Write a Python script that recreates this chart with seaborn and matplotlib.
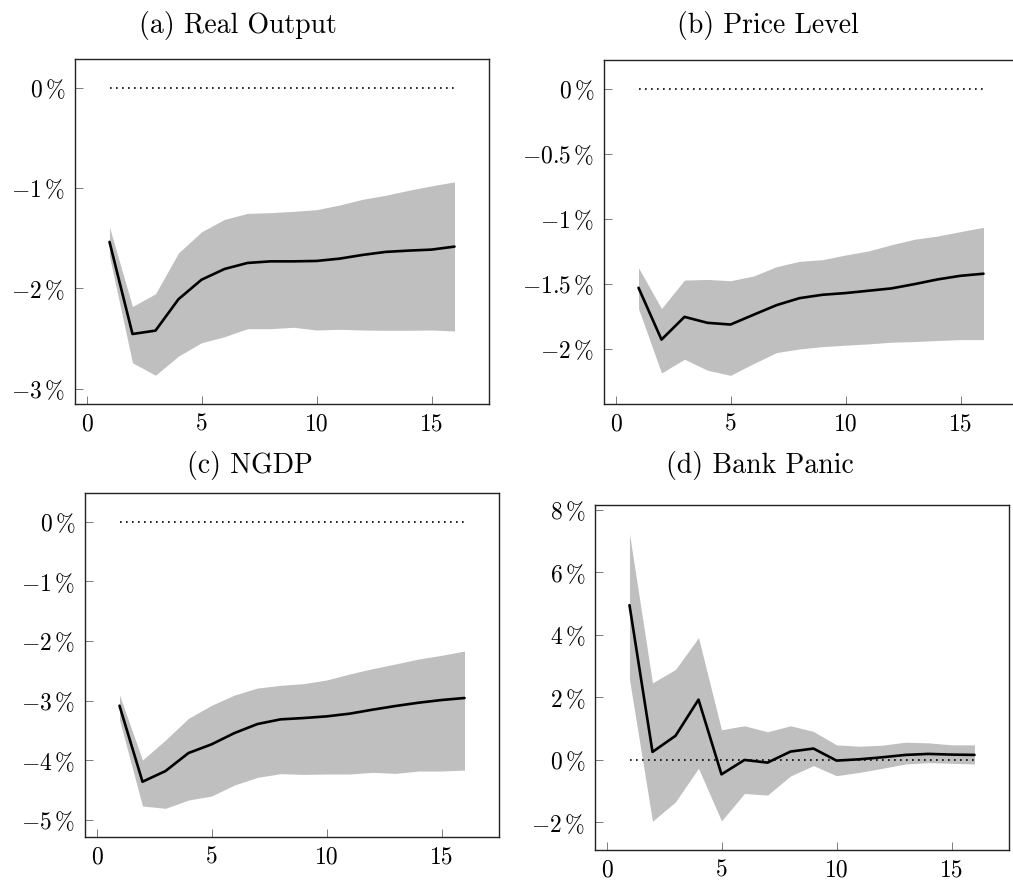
import numpy as np
import pandas as pd
import matplotlib
matplotlib.use("Agg")
import matplotlib.pyplot as plt
import seaborn as sns

# Impulse responses (percent) over a 16-period horizon, with confidence bands
horizon = list(range(1, 17))

output_irf = [-1.536, -2.454, -2.420, -2.107, -1.913, -1.806, -1.746, -1.730,
              -1.730, -1.726, -1.703, -1.666, -1.636, -1.623, -1.613, -1.583]
output_hi = [-1.390, -2.180, -2.053, -1.646, -1.436, -1.312, -1.252, -1.245,
             -1.232, -1.215, -1.169, -1.112, -1.072, -1.022, -0.978, -0.938]
output_lo = [-1.680, -2.741, -2.865, -2.674, -2.541, -2.481, -2.401, -2.401,
             -2.387, -2.414, -2.407, -2.414, -2.417, -2.417, -2.414, -2.424]

price_irf = [-1.532, -1.931, -1.756, -1.802, -1.815, -1.740, -1.666, -1.612,
             -1.586, -1.573, -1.555, -1.537, -1.504, -1.468, -1.440, -1.424]
price_hi = [-1.378, -1.692, -1.473, -1.468, -1.478, -1.442, -1.370, -1.329,
            -1.316, -1.280, -1.249, -1.201, -1.159, -1.134, -1.100, -1.067]
price_lo = [-1.692, -2.188, -2.082, -2.167, -2.206, -2.116, -2.031, -2.003,
            -1.985, -1.974, -1.964, -1.951, -1.946, -1.938, -1.931, -1.931]

ngdp_irf = [-3.084, -4.358, -4.179, -3.877, -3.732, -3.542, -3.391, -3.313,
            -3.291, -3.263, -3.218, -3.151, -3.089, -3.034, -2.989, -2.955]
ngdp_hi = [-2.904, -3.994, -3.659, -3.296, -3.078, -2.905, -2.788, -2.743,
           -2.715, -2.654, -2.553, -2.464, -2.385, -2.302, -2.240, -2.168]
ngdp_lo = [-3.320, -4.765, -4.804, -4.665, -4.598, -4.413, -4.285, -4.223,
           -4.235, -4.229, -4.229, -4.201, -4.218, -4.179, -4.179, -4.162]

panic_irf = [4.950, 0.257, 0.772, 1.929, -0.461, 0.000, -0.086, 0.268,
             0.364, -0.021, 0.021, 0.086, 0.161, 0.193, 0.171, 0.161]
panic_hi = [7.235, 2.465, 2.894, 3.912, 0.965, 1.093, 0.900, 1.093,
            0.911, 0.482, 0.439, 0.472, 0.568, 0.547, 0.482, 0.482]
panic_lo = [2.572, -1.961, -1.340, -0.268, -1.951, -1.072, -1.125, -0.514,
            -0.182, -0.504, -0.397, -0.268, -0.129, -0.086, -0.107, -0.129]

titles = ["(a) Real Output", "(b) Price Level", "(c) NGDP", "(d) Bank Panic"]
yticks = [[-3, -2, -1, 0],
          [-2, -1.5, -1, -0.5, 0],
          [-5, -4, -3, -2, -1, 0],
          [-2, 0, 2, 4, 6, 8]]
xticks = [0, 5, 10, 15]

sns.set_theme(style="white")
plt.rcParams["font.family"] = ["serif"]
plt.rcParams["font.serif"] = ["cmr10", "DejaVu Serif"]
plt.rcParams["mathtext.fontset"] = "cm"
plt.rcParams["axes.unicode_minus"] = False

W, H = 1013, 880
fig = plt.figure(figsize=(W / 100, H / 100), dpi=100)

# axes boxes in pixels: left, top, right, bottom
boxes = [(75, 59, 489, 404), (604, 60, 1018, 404),
         (85, 493, 499, 837), (595, 505, 1009, 850)]
# title anchors in pixels: centre x, baseline y
title_pos = [(238, 33), (768, 33), (250, 473), (760, 473)]

panels = [(output_irf, output_lo, output_hi),
          (price_irf, price_lo, price_hi),
          (ngdp_irf, ngdp_lo, ngdp_hi),
          (panic_irf, panic_lo, panic_hi)]

BAND = "#bfbfbf"


def pct_label(v):
    s = f"{v:g}"
    if s.startswith("-"):
        s = "-" + s[1:]
    return r"$" + s + r"\,\%$"


for i, (irf, lo, hi) in enumerate(panels):
    l, t, r, b = boxes[i]
    ax = fig.add_axes([l / W, 1 - b / H, (r - l) / W, (b - t) / H])
    df = pd.DataFrame({"h": horizon, "irf": irf, "lo": lo, "hi": hi})

    ax.fill_between(df["h"], df["lo"], df["hi"], color=BAND, lw=0, zorder=1)
    ax.hlines(0, df["h"].iloc[0], df["h"].iloc[-1], colors="black",
              linestyles=(0, (1, 2.6)), lw=1.2, zorder=2)
    sns.lineplot(data=df, x="h", y="irf", ax=ax, color="black", lw=1.9,
                 zorder=3)

    ymin = min(df["lo"].min(), 0.0)
    ymax = max(df["hi"].max(), 0.0)
    pad = 0.1 * (ymax - ymin)
    ax.set_ylim(ymin - pad, ymax + pad)
    ax.set_xlim(-0.5, 17.5)

    ax.set_xticks(xticks)
    ax.set_xticklabels([str(x) for x in xticks])
    ax.set_yticks(yticks[i])
    ax.set_yticklabels([pct_label(v) for v in yticks[i]])
    ax.set_xlabel("")
    ax.set_ylabel("")

    ax.tick_params(axis="both", which="major", direction="in", length=5.5,
                   width=0.6, color="#666666", labelsize=17, pad=7,
                   labelcolor="black", bottom=True, left=True,
                   top=False, right=False)
    for sp in ax.spines.values():
        sp.set_visible(True)
        sp.set_color("#222222")
        sp.set_linewidth(1.0)
    ax.grid(False)

    cx, by = title_pos[i]
    fig.text(cx / W, 1 - by / H, titles[i], ha="center", va="baseline",
             fontsize=20, color="black")

fig.savefig("out.png", dpi=100)
